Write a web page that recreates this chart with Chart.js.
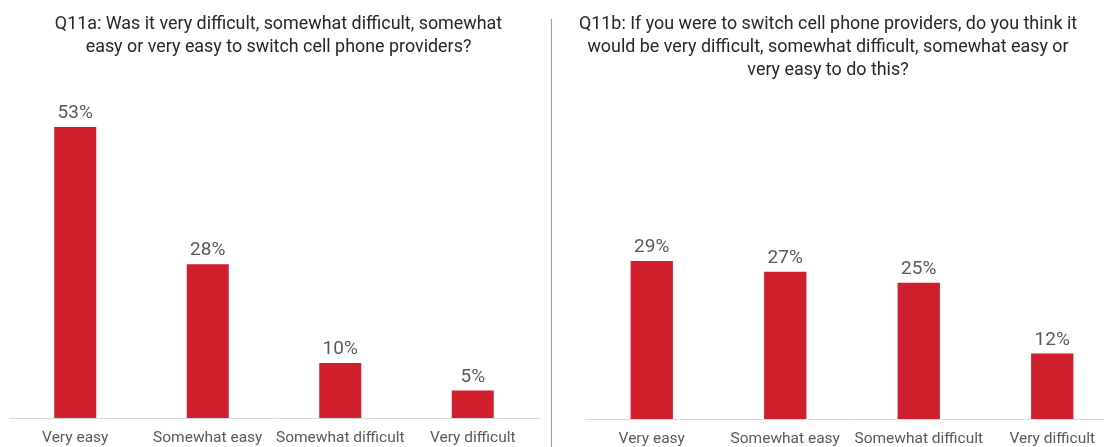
<!DOCTYPE html>
<html>
<head>
<meta charset="utf-8">
<script src="https://cdn.jsdelivr.net/npm/chart.js@4.4.1/dist/chart.umd.min.js"></script>
<style>
  html, body { margin: 0; padding: 0; background: #fff; }
  body { width: 1104px; height: 447px; overflow: hidden; position: relative; }
  canvas { position: absolute; top: 0; display: block; }
  #chartA { left: 0; }
  #chartB { left: 551px; }
  #divider { position: absolute; z-index: 2; left: 551px; top: 19px; width: 1px; height: 430px; background: #ec7b86; }
</style>
</head>
<body>
<canvas id="chartA" width="556" height="447"></canvas>
<canvas id="chartB" width="570" height="447"></canvas>
<div id="divider"></div>
<script>
// Answer categories, shared by both questions
const categories = ['Very easy', 'Somewhat easy', 'Somewhat difficult', 'Very difficult'];

// Q11a: switched providers
const titleA = ['Q11a: Was it very difficult, somewhat difficult, somewhat',
                'easy or very easy to switch cell phone providers?'];
const valuesA = [53, 28, 10, 5];

// Q11b: have not switched
const titleB = ['Q11b: If you were to switch cell phone providers, do you think it',
                'would be very difficult, somewhat difficult, somewhat easy or',
                'very easy to do this?'];
const valuesB = [29, 27, 25, 12];

const FONT = 'Roboto, "Liberation Sans", sans-serif';
const BAR_RED = '#cf1f2c';

// Percent label above each bar
const valueLabels = {
    id: 'valueLabels',
    afterDatasetsDraw(chart) {
        const ctx = chart.ctx;
        const meta = chart.getDatasetMeta(0);
        ctx.save();
        ctx.font = '19px ' + FONT;
        ctx.fillStyle = '#595959';
        ctx.textAlign = 'center';
        ctx.textBaseline = 'alphabetic';
        meta.data.forEach((bar, i) => {
            ctx.fillText(chart.data.datasets[0].data[i] + '%', bar.x, bar.y - 9);
        });
        ctx.restore();
    }
};

// Slide the title block sideways without moving the plot area
const titleNudge = {
    id: 'titleNudge',
    afterLayout(chart, args, opts) {
        const t = chart.titleBlock;
        if (t && opts.dx) {
            t.left += opts.dx;
            t.right += opts.dx;
        }
    }
};

function makeChart(canvasId, title, values, opts) {
    const ctx = document.getElementById(canvasId).getContext('2d');
    return new Chart(ctx, {
        type: 'bar',
        data: {
            labels: categories,
            datasets: [{
                data: values,
                backgroundColor: BAR_RED,
                categoryPercentage: 1,
                barPercentage: 0.317
            }]
        },
        options: {
            responsive: false,
            animation: false,
            layout: { padding: opts.padding },
            plugins: {
                legend: { display: false },
                tooltip: { enabled: false },
                title: {
                    display: true,
                    text: title,
                    color: '#262626',
                    font: { family: FONT, size: 17.9, weight: 'normal', lineHeight: 1.285 },
                    padding: { top: 13, bottom: opts.titleGap }
                },
                titleNudge: { dx: opts.titleDx }
            },
            scales: {
                x: {
                    grid: { display: false, drawTicks: false },
                    border: { display: true, color: '#d9d9d9', width: 1 },
                    ticks: {
                        color: '#595959',
                        font: { family: FONT, size: 15.5, lineHeight: 1.2 },
                        padding: 11,
                        maxRotation: 0,
                        autoSkip: false
                    },
                    // fixed axis band so the labels sit right at the bottom edge
                    afterFit(scale) {
                        scale.height = opts.axisHeight;
                    }
                },
                y: {
                    display: false,
                    min: 0,
                    max: 60
                }
            }
        },
        plugins: [valueLabels, titleNudge]
    });
}

document.addEventListener('DOMContentLoaded', () => {
    makeChart('chartA', titleA, valuesA, {
        padding: { left: 9, right: 17, top: 0, bottom: 0 },
        titleGap: 29.6,
        titleDx: 4.5,
        axisHeight: 29
    });
    makeChart('chartB', titleB, valuesB, {
        padding: { left: 34, right: 2, top: 0, bottom: 0 },
        titleGap: 10,
        titleDx: -24,
        axisHeight: 28
    });
});
</script>
</body>
</html>
